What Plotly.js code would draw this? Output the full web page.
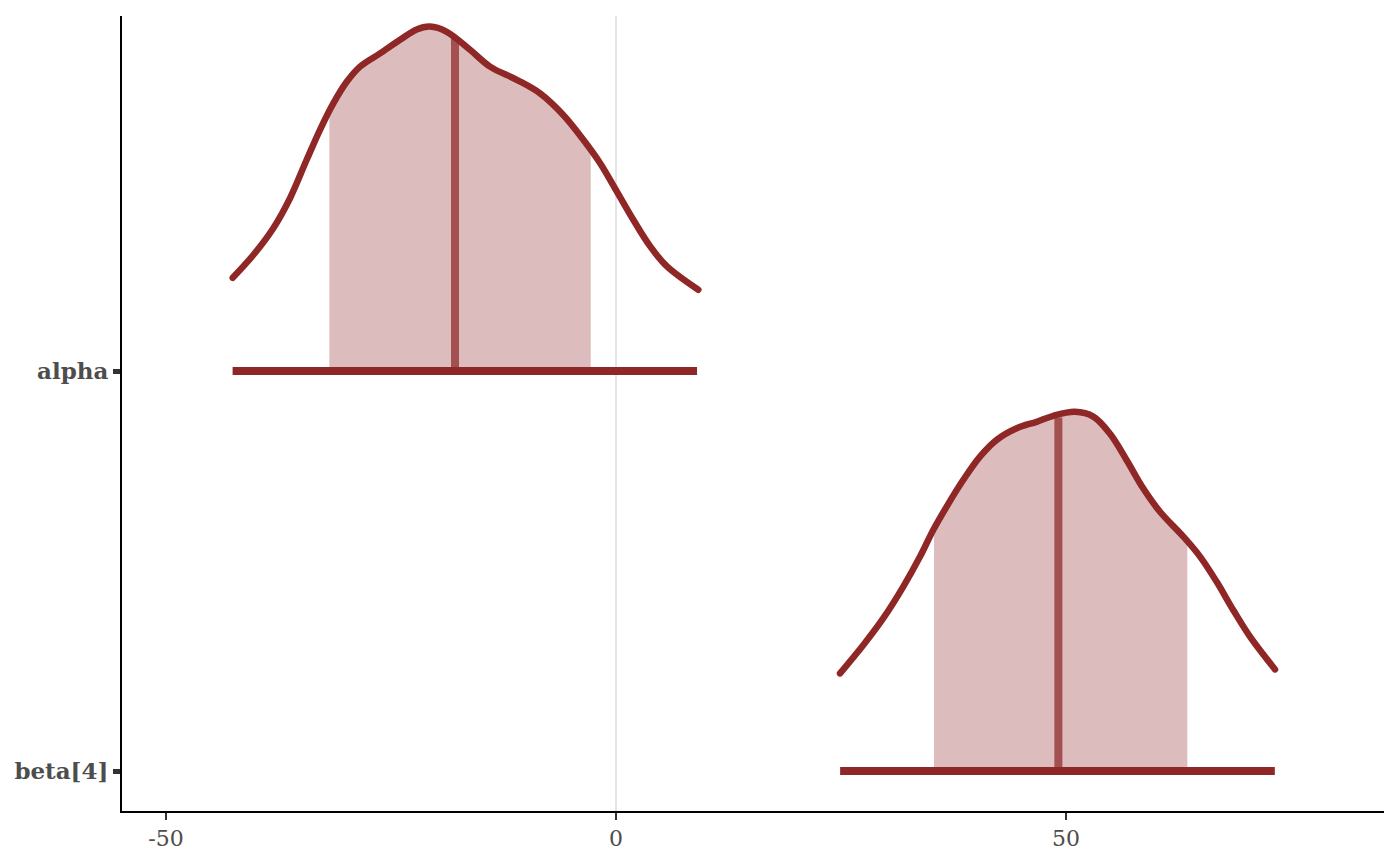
<!DOCTYPE html>
<html>
<head>
<meta charset="utf-8">
<script src="https://cdn.plot.ly/plotly-3.0.1.min.js"></script>
<style>html,body{margin:0;padding:0;background:#fff;}#chart{width:1400px;height:866px;}
.scatterlayer .trace:nth-child(8) .js-line,
.scatterlayer .trace:nth-child(10) .js-line{stroke-linecap:round;stroke-linejoin:round;}</style>
</head>
<body>
<div id="chart"></div>
<script>
// Parameters (top to bottom) and their baseline positions
const params = ["alpha", "beta[4]"];
const baselines = [2, 1];

// Density curves (x, scaled height above baseline)
const alphaX = [-42.59, -40.30, -38.08, -36.22, -34.37, -32.89, -31.41, -29.92, -28.44, -26.22, -24.00, -22.14, -20.67, -18.81, -16.22, -14.00, -11.03, -8.44, -5.86, -3.63, -1.78, 0.08, 1.92, 3.78, 5.63, 9.14];
const alphaH = [0.233, 0.290, 0.357, 0.432, 0.528, 0.603, 0.669, 0.723, 0.761, 0.794, 0.828, 0.854, 0.861, 0.848, 0.803, 0.761, 0.728, 0.694, 0.640, 0.578, 0.520, 0.449, 0.378, 0.312, 0.262, 0.203];
const betaX = [24.89, 27.48, 29.70, 31.92, 33.78, 35.26, 36.74, 38.59, 40.44, 42.30, 44.52, 46.74, 48.60, 51.00, 53.03, 54.89, 56.74, 58.59, 60.44, 63.03, 64.89, 66.74, 68.59, 70.44, 73.22];
const betaH = [0.244, 0.315, 0.382, 0.461, 0.536, 0.603, 0.661, 0.728, 0.786, 0.828, 0.857, 0.873, 0.888, 0.898, 0.886, 0.843, 0.777, 0.706, 0.648, 0.586, 0.536, 0.473, 0.402, 0.336, 0.254];

// Intervals: outer (line), inner (shaded), median
const outerLo = [-42.6, 24.9];
const outerHi = [9.0, 73.2];
const innerLo = [-31.85, 35.33];
const innerHi = [-2.81, 63.48];
const innerLoH = [0.655, 0.600];
const innerHiH = [0.545, 0.575];
const medians = [-17.89, 49.15];
const medianH = [0.835, 0.884];

const xTicks = [-50, 0, 50];

const DARK = "#8F2727", LIGHT = "#DCBCBC", MID = "#A25050";
const curves = [[alphaX, alphaH], [betaX, betaH]];
const traces = [];

params.forEach((p, i) => {
  const b = baselines[i];
  const [cx, ch] = curves[i];
  traces.push({x: [innerLo[i], innerHi[i]], y: [b, b], mode: "lines",
    line: {width: 0, color: LIGHT}, hoverinfo: "skip", showlegend: false});
  const sx = [innerLo[i]], sy = [b + innerLoH[i]];
  cx.forEach((v, k) => { if (v > innerLo[i] + 0.5 && v < innerHi[i] - 0.5) { sx.push(v); sy.push(b + ch[k]); } });
  sx.push(innerHi[i]); sy.push(b + innerHiH[i]);
  traces.push({x: sx, y: sy, mode: "lines", fill: "tonexty", fillcolor: LIGHT,
    line: {width: 0, color: LIGHT, shape: "spline", smoothing: 1}, hoverinfo: "skip", showlegend: false});
});
params.forEach((p, i) => {
  const b = baselines[i];
  traces.push({x: [medians[i], medians[i]], y: [b, b + medianH[i]], mode: "lines",
    line: {width: 8, color: MID}, hoverinfo: "skip", showlegend: false});
});
params.forEach((p, i) => {
  const b = baselines[i];
  traces.push({x: [outerLo[i], outerHi[i]], y: [b, b], mode: "lines",
    line: {width: 8, color: DARK}, hoverinfo: "skip", showlegend: false});
  const [cx, ch] = curves[i];
  traces.push({x: cx, y: ch.map(v => b + v), mode: "lines",
    line: {width: 6.5, color: DARK, shape: "spline", smoothing: 1}, hoverinfo: "skip", showlegend: false});
});

const layout = {
  width: 1400, height: 866,
  margin: {l: 122, r: 16, t: 16, b: 55},
  paper_bgcolor: "#fff", plot_bgcolor: "#fff",
  showlegend: false,
  xaxis: {
    range: [-54.89, 85.33], tickvals: xTicks, ticktext: xTicks.map(String),
    showgrid: false, zeroline: true, zerolinecolor: "#E5E5E5", zerolinewidth: 2.5,
    showline: true, linecolor: "#000", linewidth: 2,
    ticks: "outside", ticklen: 7, tickwidth: 2, tickcolor: "#333",
    tickfont: {family: "DejaVu Serif", size: 22, color: "#4D4D4D"}
  },
  yaxis: {
    range: [0.9, 2.8875], tickvals: baselines, ticktext: params,
    showgrid: false, zeroline: false,
    showline: true, linecolor: "#000", linewidth: 2,
    ticks: "outside", ticklen: 7, tickwidth: 5, tickcolor: "#333",
    tickfont: {family: "DejaVu Serif", size: 23, color: "#4D4D4D", weight: 700}
  }
};

Plotly.newPlot("chart", traces, layout, {displayModeBar: false, staticPlot: true});
</script>
</body>
</html>
